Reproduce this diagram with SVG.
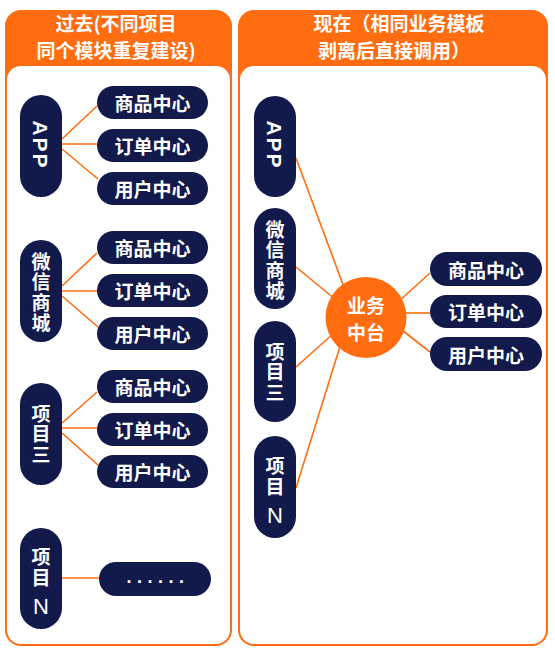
<svg xmlns="http://www.w3.org/2000/svg" width="555" height="659" viewBox="0 0 555 659">
<style>
.panel{fill:#FF6D10}
.inner{fill:#FFFFFF}
.hdr{fill:#FFFFFF;font-family:"Noto Sans CJK SC","Noto Sans",sans-serif;font-weight:bold;font-size:19px;text-anchor:middle}
.pill{fill:#121A4B}
.t{fill:#FFFFFF;font-family:"Noto Sans CJK SC","Noto Sans",sans-serif;font-weight:bold;font-size:19px;text-anchor:middle;dominant-baseline:central}
.v{fill:#FFFFFF;font-family:"Noto Sans CJK SC","Noto Sans",sans-serif;font-weight:bold;font-size:19px;text-anchor:middle;writing-mode:vertical-rl;letter-spacing:1.5px}
.lat{fill:#FFFFFF;font-family:"Liberation Sans","Noto Sans CJK SC",sans-serif;font-weight:bold;font-size:21px;text-anchor:middle;dominant-baseline:central}
.n{fill:#FFFFFF;font-family:"Liberation Sans",sans-serif;font-size:22px;text-anchor:middle;dominant-baseline:central}
.conn line{stroke:#FF6D10;stroke-width:1.6}
.hub{fill:#FF6D10}
</style>
<g id="panel-left">
<rect class="panel" x="5" y="10" width="227" height="636" rx="16"/>
<rect class="inner" x="7" y="66" width="223" height="578" rx="14"/>
<text class="hdr" x="116" y="31">过去(不同项目</text>
<text class="hdr" x="116" y="58">同个模块重复建设)</text>
</g>
<g id="panel-right">
<rect class="panel" x="238" y="10" width="310" height="636" rx="16"/>
<rect class="inner" x="240" y="66" width="306" height="578" rx="14"/>
<text class="hdr" x="399" y="31">现在（相同业务模板</text>
<text class="hdr" x="394" y="58">剥离后直接调用）</text>
</g>
<g class="conn" id="connectors">
<line x1="62" y1="139" x2="97" y2="106"/>
<line x1="62" y1="144" x2="97" y2="144"/>
<line x1="62" y1="149" x2="98" y2="179"/>
<line x1="62" y1="286" x2="97" y2="253"/>
<line x1="62" y1="291" x2="97" y2="291"/>
<line x1="62" y1="296" x2="98" y2="327"/>
<line x1="62" y1="423" x2="97" y2="392"/>
<line x1="62" y1="428" x2="97" y2="428"/>
<line x1="62" y1="433" x2="98" y2="465"/>
<line x1="62" y1="578" x2="99" y2="578"/>
<line x1="296" y1="158" x2="345" y2="290"/>
<line x1="296" y1="267" x2="336" y2="300"/>
<line x1="296" y1="367" x2="334" y2="333"/>
<line x1="296" y1="488" x2="342" y2="340"/>
<line x1="398" y1="302" x2="430" y2="273"/>
<line x1="400" y1="313" x2="430" y2="313"/>
<line x1="398" y1="327" x2="430" y2="352"/>
</g>
<g id="l-app"><rect class="pill" x="20" y="95" width="42" height="102" rx="21"/><text class="lat" transform="translate(40,145) rotate(90)" letter-spacing="2">APP</text></g>
<g id="l-app-goods"><rect class="pill" x="97" y="86" width="111" height="33" rx="16.5"/><text class="t" x="152.5" y="102.5">商品中心</text></g>
<g id="l-app-order"><rect class="pill" x="97" y="129" width="111" height="33" rx="16.5"/><text class="t" x="152.5" y="145.5">订单中心</text></g>
<g id="l-app-user"><rect class="pill" x="97" y="172" width="111" height="33" rx="16.5"/><text class="t" x="152.5" y="188.5">用户中心</text></g>
<g id="l-wx"><rect class="pill" x="20" y="240" width="42" height="102" rx="21"/><text class="v" x="41" y="293">微信商城</text></g>
<g id="l-wx-goods"><rect class="pill" x="97" y="231" width="111" height="33" rx="16.5"/><text class="t" x="152.5" y="247.5">商品中心</text></g>
<g id="l-wx-order"><rect class="pill" x="97" y="274" width="111" height="33" rx="16.5"/><text class="t" x="152.5" y="290.5">订单中心</text></g>
<g id="l-wx-user"><rect class="pill" x="97" y="317" width="111" height="33" rx="16.5"/><text class="t" x="152.5" y="333.5">用户中心</text></g>
<g id="l-p3"><rect class="pill" x="20" y="383" width="42" height="102" rx="21"/><text class="v" x="41" y="435">项目三</text></g>
<g id="l-p3-goods"><rect class="pill" x="97" y="370" width="111" height="33" rx="16.5"/><text class="t" x="152.5" y="386.5">商品中心</text></g>
<g id="l-p3-order"><rect class="pill" x="97" y="413" width="111" height="33" rx="16.5"/><text class="t" x="152.5" y="429.5">订单中心</text></g>
<g id="l-p3-user"><rect class="pill" x="97" y="455" width="111" height="33" rx="16.5"/><text class="t" x="152.5" y="471.5">用户中心</text></g>
<g id="l-pn"><rect class="pill" x="20" y="528" width="42" height="101" rx="21"/><text class="v" x="41" y="568">项目</text><text class="n" x="41" y="606">N</text></g>
<g id="l-pn-more"><rect class="pill" x="99" y="562" width="112" height="34" rx="17"/><text x="158" y="583" fill="#FFFFFF" font-family="Liberation Sans, sans-serif" font-weight="bold" font-size="18" text-anchor="middle" letter-spacing="5.5">......</text></g>
<g id="r-app"><rect class="pill" x="254" y="96" width="42" height="101" rx="21"/><text class="lat" transform="translate(274,145) rotate(90)" letter-spacing="2">APP</text></g>
<g id="r-wx"><rect class="pill" x="254" y="208" width="42" height="101" rx="21"/><text class="v" x="275" y="261">微信商城</text></g>
<g id="r-p3"><rect class="pill" x="254" y="321" width="42" height="101" rx="21"/><text class="v" x="275" y="373">项目三</text></g>
<g id="r-pn"><rect class="pill" x="254" y="436" width="42" height="102" rx="21"/><text class="v" x="275" y="477">项目</text><text class="n" x="275" y="515">N</text></g>
<g id="hub"><circle class="hub" cx="366" cy="317.5" r="40.5"/><text class="t" x="366" y="304">业务</text><text class="t" x="366" y="331">中台</text></g>
<g id="r-goods"><rect class="pill" x="430" y="252" width="112" height="34" rx="17"/><text class="t" x="486" y="269">商品中心</text></g>
<g id="r-order"><rect class="pill" x="430" y="295" width="112" height="33" rx="16.5"/><text class="t" x="486" y="311.5">订单中心</text></g>
<g id="r-user"><rect class="pill" x="430" y="337" width="112" height="34" rx="17"/><text class="t" x="486" y="354">用户中心</text></g>
</svg>
